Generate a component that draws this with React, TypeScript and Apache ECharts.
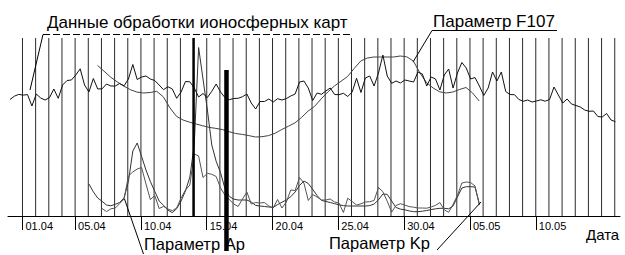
import React, { useEffect, useRef } from "react";
import * as echarts from "echarts";

// x axis: day number (01.04 = 1); y: arbitrary units above the date axis
const tickDays = [1, 5, 10, 15, 20, 25, 30, 35, 40];
const tickLabels = ["01.04", "05.04", "10.04", "15.04", "20.04", "25.04", "30.04", "05.05", "10.05"];
const gridDays = [
  1, 2, 3, 4, 5, 6, 7, 8, 9, 10, 11, 12, 13, 14, 15, 16, 17, 18, 19, 20, 21, 22, 23,
  24, 25, 26, 27, 28, 29, 30, 31, 32, 33, 34, 35, 36, 37, 38, 39, 40, 41, 42, 43, 44, 45, 46,
];
const gridTop = 178;
// [day, bottom, top]
const markerLines = [
  [14, 0, 178],
  [16.5, -35, 146],
];

// ionospheric map data, samples every 1/3 day starting at day 0.05
const ionoStart = 0.05;
const ionoValues = [
  116.5, 119.8, 121.6, 120.9, 121.4, 110, 122, 118, 116, 118.3,
  127, 117.7, 131, 135.5, 136, 141, 147.2, 131, 124, 137.5,
  127, 127.2, 132, 130, 130, 132.5, 130.2, 137, 151.5, 136.5,
  139, 140, 137, 135.5, 131, 126.3, 129.3, 127, 117.7, 124,
  134.5, 134.2, 128, 119, 122.5, 118.5, 124.7, 132, 124, 118.5,
  116.3, 117.5, 117.7, 119.3, 122, 113, 107, 114.5, 114.5, 117,
  114, 117.3, 116, 117.5, 120, 122, 134, 135, 128, 115.5,
  123, 121.7, 125, 128, 121.5, 121.3, 122.7, 119.5, 124, 137.7,
  123.5, 138, 140, 130, 143, 161, 140, 132.7, 135, 133,
  136, 135, 134, 144, 142, 130, 139, 137, 126, 141,
  147, 128, 143, 153.5, 148, 137, 138.5, 130, 120.5, 128,
  144, 135, 144, 124.5, 121.5, 121.3, 116.5, 114.7, 116, 114,
  115, 116.2, 114.8, 116.5, 129, 121, 113, 117, 112, 110.5,
  109, 106, 104.7, 105, 99.5, 99, 102.5, 96, 94.3,
];
const ionoStep = 1 / 3;

// F107, samples every half day from day 6.7
const f107Start = 6.7;
const f107Step = 0.5;
const f107Values = [
  150.6, 144.8, 138.8, 134.1, 129.8, 126.3, 123.9, 123, 123.5, 124.7,
  119.2, 108.2, 99.7, 96, 93.8, 92, 90.2, 88.6, 87.6, 86.4,
  84.3, 82.5, 81.6, 80.4, 79, 79.3, 80.4, 82.8, 86.5, 89.7,
  93.1, 98.5, 104.9, 109.7, 117.2, 124, 130, 134.7, 139.5, 147.5,
  155, 158, 159, 159, 159, 159, 160, 159.2, 155, 143,
  133.4, 128, 124.2, 123, 124, 126.5, 128.5, 123, 115,
];

// Ap, samples every 1/3 day from day 6.05
const apStart = 6.05;
const apValues = [
  32, 24.2, 18, 14.7, 11, 10.2, 11.7, 13.5, 18, 34.5,
  65, 73, 59.6, 46, 34.5, 24.7, 15, 10.7, 6, 3.3,
  7.3, 15, 25, 39, 71, 168.5, 137, 106, 71, 54.7,
  43.3, 27.5, 19.5, 16.9, 16, 16, 16, 14, 10.6, 10,
  9.5, 9, 8.7, 11.4, 13.8, 16, 19.3, 24, 30.5, 35,
  32.5, 26.7, 20.5, 15.6, 14.5, 13.5, 12.3, 11.2, 10.4, 10,
  10, 10, 10, 10, 10.4, 12, 16.2, 22, 21.6, 15,
  8.5, 6.9, 6.2, 5.1, 4.3, 4.3, 4.8, 5.5, 6.4, 7.2,
  7.7, 7.7, 7.2, 10, 19, 28, 29.3, 29.3, 29, 12,
];

// Kp, samples every 1/3 day from day 7.05
const kpStart = 7.05;
const kpValues = [
  7.5, 4.4, 7.2, 8, 12.4, 17, 40, 44, 47, 48.5,
  32, 16.4, 20.5, 7.5, 9.5, 7, 5.3, 8, 18, 26,
  31, 62, 60, 38.5, 42.7, 41.7, 39.5, 28, 21, 16.5,
  12, 9.5, 17, 24, 12, 13.5, 13, 13.5, 10, 8,
  16.5, 8, 14, 26, 25.5, 38.5, 33, 15.5, 21.5, 19,
  16, 16, 17, 14, 13, 3.5, 17.8, 14.5, 11, 12.2,
  14, 14.3, 15.5, 28.5, 24.3, 14.7, 3.9, 10.5, 12.3, 10.9,
  9.4, 8.8, 8, 8, 7.8, 9, 10.7, 13.4, 6.2, 3.7,
  11.7, 20.7, 33, 34, 33.5, 30, 11,
];
const kpStep = 1 / 3;

const FONT = "'Liberation Sans', Arial, sans-serif";

function toPairs(start: number, step: number, vals: number[]) {
  return vals.map((v, i) => [start + i * step, v]);
}

export default function App() {
  const ref = useRef<HTMLDivElement>(null);
  useEffect(() => {
    const chart = echarts.init(ref.current!, null, { renderer: "svg" });
    const vline = (color: string, widthOf: (i: number) => number) =>
      (params: any, api: any) => {
        const d = api.value(0);
        const p1 = api.coord([d, api.value(1)]);
        const p2 = api.coord([d, api.value(2)]);
        return {
          type: "line",
          shape: { x1: p1[0], y1: p1[1], x2: p2[0], y2: p2[1] },
          style: { stroke: color, lineWidth: widthOf(params.dataIndex) },
        };
      };
    const lineSeries = (data: number[][], color: string, z: number) => ({
      type: "line",
      data,
      showSymbol: false,
      symbol: "none",
      lineStyle: { color, width: 1 },
      z,
      silent: true,
    });
    const text = (t: string, x: number, y: number, size: number) => ({
      type: "text",
      x,
      y,
      style: { text: t, fill: "#000", font: `${size}px ${FONT}`, align: "left", verticalAlign: "middle" },
      z: 100,
    });
    const seg = (x1: number, y1: number, x2: number, y2: number, dash?: number[]) => ({
      type: "line",
      shape: { x1, y1, x2, y2 },
      style: { stroke: "#000", lineWidth: 1, lineDash: dash || null },
      z: 100,
    });
    chart.setOption({
      animation: false,
      backgroundColor: "#fff",
      grid: { left: 8, right: 5, top: 0, bottom: 39 },
      xAxis: {
        type: "value",
        min: -0.1,
        max: 46.4,
        axisLine: { show: true, onZero: false, lineStyle: { color: "#000", width: 1 } },
        axisTick: { show: true, customValues: tickDays, length: 14, lineStyle: { color: "#000", width: 1 } },
        axisLabel: {
          customValues: tickDays,
          formatter: (v: number) => tickLabels[tickDays.indexOf(Math.round(v))] || "",
          align: "left",
          margin: 4,
          padding: [0, 0, 0, 3],
          color: "#000",
          fontSize: 11,
          fontFamily: FONT,
        },
        splitLine: { show: false },
      },
      yAxis: { type: "value", min: 0, max: 216, show: false, splitLine: { show: false } },
      series: [
        {
          type: "custom",
          data: gridDays.map((d) => [d, 0, gridTop]),
          renderItem: vline("#2a2a2a", () => 1),
          clip: false,
          silent: true,
          z: 1,
        },
        lineSeries(toPairs(f107Start, f107Step, f107Values), "#444", 3),
        lineSeries(toPairs(apStart, ionoStep, apValues), "#333", 3),
        lineSeries(toPairs(kpStart, kpStep, kpValues), "#555", 3),
        lineSeries(toPairs(ionoStart, ionoStep, ionoValues), "#111", 4),
        {
          type: "custom",
          data: markerLines,
          renderItem: vline("#000", (i) => (i === 0 ? 2.5 : 4.5)),
          clip: false,
          silent: true,
          z: 5,
        },
      ],
      graphic: [
        text("Данные обработки ионосферных карт", 47, 22.5, 17),
        seg(43, 34.5, 352, 34.5, [7, 3]),
        seg(43, 34.5, 30, 90),
        text("Параметр F107", 433, 21, 17),
        seg(432, 30.5, 557, 30.5),
        seg(432, 30.5, 413, 62),
        text("Параметр Ap", 144, 243.5, 16.5),
        seg(143.5, 254, 124.5, 199),
        text("Параметр Kp", 329, 242.5, 16.5),
        seg(437, 250, 481, 202),
        text("Дата", 586, 234.5, 15),
      ],
    });
    return () => chart.dispose();
  }, []);
  return (
    <div
      ref={ref}
      style={{ position: "fixed", left: 0, top: 0, width: 625, height: 255, background: "#fff" }}
    />
  );
}
